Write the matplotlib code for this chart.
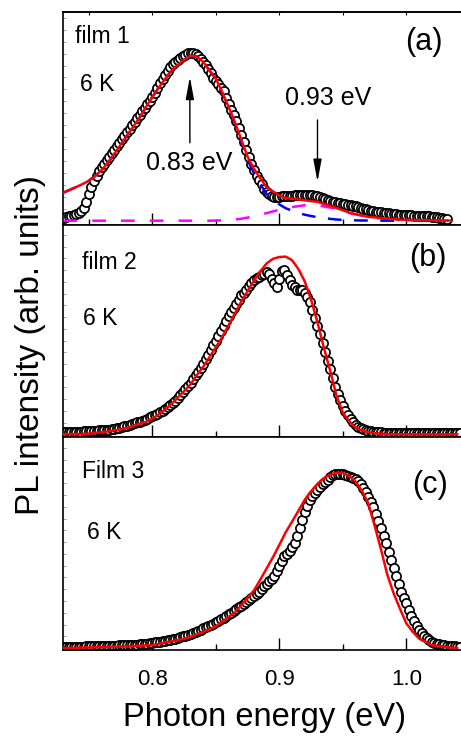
import numpy as np

import matplotlib
matplotlib.use('Agg')
import matplotlib.pyplot as plt
from matplotlib.ticker import MultipleLocator

plt.rcParams['font.family'] = ['Liberation Sans', 'DejaVu Sans']

# energy grids (eV): measured points every 2 meV, fit curves every 5 meV
e_start = 0.730
pts_step = 0.002
fit_step = 0.005

# film 1 (normalised PL)
pl_a = [0.019, 0.023, 0.027, 0.030, 0.034, 0.039, 0.045, 0.058, 0.076, 0.115,
        0.162, 0.204, 0.242, 0.272, 0.299, 0.321, 0.342, 0.365, 0.385, 0.407,
        0.428, 0.449, 0.470, 0.491, 0.512, 0.533, 0.555, 0.577, 0.598, 0.619,
        0.640, 0.660, 0.681, 0.702, 0.722, 0.745, 0.772, 0.800, 0.828, 0.855,
        0.878, 0.901, 0.925, 0.944, 0.956, 0.968, 0.980, 0.992, 1.002, 1.012,
        1.012, 1.012, 1.008, 0.993, 0.976, 0.957, 0.937, 0.914, 0.889, 0.862,
        0.842, 0.823, 0.803, 0.780, 0.743, 0.706, 0.670, 0.635, 0.600, 0.558,
        0.515, 0.472, 0.428, 0.384, 0.344, 0.307, 0.269, 0.243, 0.219, 0.194,
        0.176, 0.160, 0.146, 0.145, 0.145, 0.145, 0.146, 0.147, 0.148, 0.149,
        0.150, 0.152, 0.153, 0.154, 0.155, 0.156, 0.157, 0.155, 0.152, 0.150,
        0.148, 0.145, 0.139, 0.133, 0.127, 0.120, 0.115, 0.111, 0.108, 0.105,
        0.102, 0.099, 0.097, 0.095, 0.090, 0.086, 0.081, 0.077, 0.072, 0.068,
        0.064, 0.061, 0.058, 0.055, 0.053, 0.050, 0.048, 0.045, 0.044, 0.042,
        0.040, 0.039, 0.037, 0.036, 0.035, 0.034, 0.033, 0.032, 0.031, 0.030,
        0.029, 0.029, 0.028, 0.027, 0.026, 0.025, 0.023, 0.020, 0.017, 0.014,
        0.011, 0.008]
fit_a = [0.170, 0.186, 0.203, 0.221, 0.241, 0.270, 0.305, 0.350, 0.402, 0.458,
         0.513, 0.568, 0.623, 0.686, 0.747, 0.803, 0.855, 0.905, 0.940, 0.970,
         0.995, 0.990, 0.958, 0.906, 0.857, 0.774, 0.687, 0.593, 0.490, 0.385,
         0.313, 0.256, 0.201, 0.176, 0.152, 0.137, 0.133, 0.128, 0.123, 0.118,
         0.114, 0.101, 0.089, 0.076, 0.063, 0.049, 0.040, 0.031, 0.023, 0.020,
         0.016, 0.012, 0.009, 0.006, 0.005, 0.004, 0.003, 0.003, 0.002, 0.002,
         0.001, 0.001]
peak1_a = [0.170, 0.186, 0.203, 0.221, 0.241, 0.270, 0.305, 0.350, 0.402, 0.458,
           0.513, 0.568, 0.623, 0.686, 0.747, 0.803, 0.855, 0.905, 0.940, 0.970,
           0.995, 0.990, 0.958, 0.906, 0.856, 0.772, 0.683, 0.586, 0.478, 0.366,
           0.286, 0.220, 0.160, 0.125, 0.098, 0.075, 0.060, 0.047, 0.036, 0.028,
           0.021, 0.016, 0.011, 0.007, 0.005, 0.003, 0.002, 0.001, 0.001, 0.000,
           0.000, 0.000, 0.000, 0.000, 0.000]
peak2_a = [0.000, 0.000, 0.000, 0.000, 0.000, 0.000, 0.000, 0.000, 0.000, 0.000,
           0.000, 0.000, 0.000, 0.000, 0.000, 0.000, 0.000, 0.000, 0.000, 0.000,
           0.000, 0.000, 0.000, 0.000, 0.001, 0.002, 0.004, 0.007, 0.012, 0.019,
           0.027, 0.036, 0.046, 0.056, 0.066, 0.074, 0.082, 0.088, 0.093, 0.096,
           0.094, 0.086, 0.079, 0.069, 0.058, 0.046, 0.038, 0.030, 0.022, 0.018,
           0.014, 0.011, 0.008, 0.006, 0.004, 0.003, 0.002, 0.002, 0.001, 0.001,
           0.000, 0.000]

# film 2
pl_b = [0.011, 0.012, 0.012, 0.013, 0.013, 0.014, 0.015, 0.015, 0.016, 0.016,
        0.017, 0.019, 0.020, 0.021, 0.022, 0.023, 0.024, 0.026, 0.027, 0.028,
        0.031, 0.035, 0.038, 0.042, 0.046, 0.049, 0.053, 0.056, 0.062, 0.067,
        0.072, 0.077, 0.082, 0.088, 0.095, 0.103, 0.110, 0.117, 0.124, 0.132,
        0.143, 0.154, 0.165, 0.176, 0.188, 0.204, 0.221, 0.237, 0.253, 0.271,
        0.291, 0.311, 0.332, 0.352, 0.372, 0.396, 0.422, 0.448, 0.474, 0.501,
        0.528, 0.555, 0.583, 0.610, 0.638, 0.664, 0.688, 0.711, 0.735, 0.758,
        0.782, 0.798, 0.815, 0.832, 0.852, 0.866, 0.878, 0.886, 0.894, 0.903,
        0.912, 0.905, 0.875, 0.853, 0.831, 0.874, 0.919, 0.926, 0.898, 0.871,
        0.842, 0.829, 0.815, 0.815, 0.813, 0.798, 0.771, 0.742, 0.700, 0.657,
        0.610, 0.565, 0.513, 0.462, 0.413, 0.365, 0.316, 0.269, 0.229, 0.191,
        0.160, 0.130, 0.107, 0.086, 0.069, 0.053, 0.043, 0.033, 0.028, 0.023,
        0.019, 0.016, 0.015, 0.013, 0.012, 0.011, 0.010, 0.009, 0.007, 0.006,
        0.006, 0.006, 0.005, 0.006, 0.006, 0.005, 0.006, 0.006, 0.006, 0.005,
        0.006, 0.006, 0.005, 0.006, 0.006, 0.006, 0.005, 0.006, 0.006, 0.006,
        0.006, 0.005, 0.006, 0.006, 0.006, 0.005, 0.006]
fit_b = [0.000, 0.001, 0.001, 0.002, 0.004, 0.008, 0.012, 0.017, 0.022, 0.027,
         0.036, 0.047, 0.059, 0.070, 0.088, 0.112, 0.140, 0.171, 0.207, 0.243,
         0.281, 0.333, 0.380, 0.435, 0.491, 0.548, 0.614, 0.681, 0.747, 0.806,
         0.865, 0.918, 0.962, 0.988, 0.998, 1.000, 0.980, 0.930, 0.860, 0.757,
         0.630, 0.488, 0.358, 0.216, 0.121, 0.073, 0.037, 0.022, 0.011, 0.007,
         0.004, 0.001, 0.000, 0.000, 0.000, 0.000, 0.000, 0.000, 0.000, 0.000,
         0.000, 0.000, 0.000]

# film 3
pl_c = [0.006, 0.006, 0.006, 0.007, 0.007, 0.007, 0.008, 0.008, 0.008, 0.009,
        0.009, 0.009, 0.010, 0.010, 0.011, 0.011, 0.012, 0.012, 0.013, 0.013,
        0.014, 0.014, 0.015, 0.015, 0.016, 0.016, 0.017, 0.018, 0.019, 0.020,
        0.022, 0.023, 0.025, 0.026, 0.028, 0.029, 0.032, 0.034, 0.036, 0.039,
        0.041, 0.044, 0.046, 0.050, 0.054, 0.058, 0.062, 0.066, 0.070, 0.074,
        0.081, 0.087, 0.093, 0.099, 0.105, 0.112, 0.118, 0.125, 0.132, 0.139,
        0.146, 0.155, 0.164, 0.172, 0.181, 0.192, 0.202, 0.212, 0.222, 0.232,
        0.242, 0.252, 0.262, 0.273, 0.284, 0.296, 0.309, 0.322, 0.336, 0.352,
        0.366, 0.382, 0.396, 0.412, 0.440, 0.470, 0.497, 0.522, 0.536, 0.550,
        0.573, 0.600, 0.640, 0.683, 0.729, 0.775, 0.811, 0.846, 0.864, 0.882,
        0.900, 0.916, 0.935, 0.947, 0.959, 0.974, 0.988, 0.991, 0.993, 0.991,
        0.989, 0.985, 0.981, 0.976, 0.970, 0.962, 0.950, 0.934, 0.913, 0.889,
        0.862, 0.833, 0.802, 0.766, 0.726, 0.685, 0.641, 0.597, 0.549, 0.503,
        0.456, 0.410, 0.363, 0.318, 0.287, 0.254, 0.218, 0.184, 0.152, 0.124,
        0.103, 0.086, 0.069, 0.055, 0.045, 0.037, 0.031, 0.026, 0.023, 0.019,
        0.016, 0.014, 0.013, 0.011, 0.009, 0.008, 0.006]
fit_c = [0.000, 0.001, 0.002, 0.003, 0.004, 0.005, 0.006, 0.007, 0.008, 0.009,
         0.011, 0.012, 0.014, 0.015, 0.017, 0.024, 0.032, 0.039, 0.046, 0.053,
         0.063, 0.078, 0.092, 0.107, 0.124, 0.150, 0.177, 0.204, 0.244, 0.286,
         0.328, 0.390, 0.454, 0.518, 0.588, 0.660, 0.720, 0.782, 0.845, 0.893,
         0.935, 0.968, 0.988, 0.998, 0.997, 0.980, 0.947, 0.895, 0.824, 0.697,
         0.562, 0.417, 0.311, 0.223, 0.140, 0.093, 0.054, 0.036, 0.017, 0.012,
         0.008, 0.003, 0.000]

film_labels = ['film 1', 'film 2', 'Film 3']
panel_tags = ['(a)', '(b)', '(c)']
temp_label = '6 K'
peak_labels = ['0.83 eV', '0.93 eV']
peak_pos = [0.8295, 0.930]


def grid(vals, step):
    return e_start + step * np.arange(len(vals))


fig, axes = plt.subplots(3, 1, sharex=True, figsize=(4.61, 7.40), dpi=100)
fig.subplots_adjust(left=63/461, right=1.0, top=1-12/740, bottom=1-650/740, hspace=0)

pts = [pl_a, pl_b, pl_c]
fits = [fit_a, fit_b, fit_c]
ylims = [(-0.024, 1.259), (-0.017, 1.180), (-0.011, 1.200)]
ystep = [0.072, 0.066, 0.067]

for i, ax in enumerate(axes):
    ax.plot(grid(pts[i], pts_step), pts[i], 'o', ms=6.6, mfc='white', mec='black',
            mew=1.25, zorder=2)
    if i == 0:
        ax.plot(grid(peak2_a, fit_step), peak2_a, color='#ff00ff', lw=1.8,
                dashes=(5.5, 6), zorder=3)
        ax.plot(grid(peak1_a, fit_step), peak1_a, color='#0000ff', lw=1.8,
                dashes=(5.5, 5), zorder=3)
    ax.plot(grid(fits[i], fit_step), fits[i], color='#ff0000', lw=1.8, zorder=4)

    ax.set_xlim(0.7296, 1.0430)
    ax.set_ylim(*ylims[i])
    ax.xaxis.set_major_locator(MultipleLocator(0.1))
    ax.xaxis.set_minor_locator(MultipleLocator(0.05))
    ax.yaxis.set_major_locator(MultipleLocator(ystep[i]))
    ax.tick_params(axis='x', which='major', direction='in', length=8.5, width=1.0,
                   top=False, labelsize=16, pad=14)
    ax.tick_params(axis='x', which='minor', direction='in', length=4.5, width=1.0,
                   top=False)
    ax.tick_params(axis='y', which='both', direction='in', length=2.5, width=0.6,
                   color='0.6', labelleft=False, right=False)
    for s in ['left', 'top', 'bottom']:
        ax.spines[s].set_linewidth(1.2)
    ax.spines['right'].set_visible(False)

    ax.text(0.03 if i == 0 else 0.048, [0.887, 0.822, 0.840][i], film_labels[i],
            transform=ax.transAxes, ha='left', va='center', fontsize=16.5)
    ax.text([0.043, 0.050, 0.060][i], [0.657, 0.559, 0.552][i], temp_label,
            transform=ax.transAxes, ha='left', va='center', fontsize=16.5)
    ax.text([0.907, 0.917, 0.922][i], [0.859, 0.845, 0.778][i], panel_tags[i],
            transform=ax.transAxes, ha='center', va='center', fontsize=22)

# short ticks along the top of the first panel
top = axes[0].secondary_xaxis('top')
top.xaxis.set_major_locator(MultipleLocator(0.05))
top.tick_params(direction='in', length=2.5, width=0.8, labeltop=False)
top.spines['top'].set_linewidth(1.2)

ax = axes[0]
head = '-|>,head_length=1.35,head_width=0.25'
ax.annotate('', xy=(peak_pos[0], 0.867), xytext=(peak_pos[0], 0.47),
            arrowprops=dict(arrowstyle=head, color='black', lw=1.0,
                            mutation_scale=10, shrinkA=0, shrinkB=0))
ax.annotate('', xy=(peak_pos[1], 0.235), xytext=(peak_pos[1], 0.608),
            arrowprops=dict(arrowstyle=head, color='black', lw=1.0,
                            mutation_scale=10, shrinkA=0, shrinkB=0))
ax.text(0.829, 0.349, peak_labels[0], ha='center', va='center', fontsize=18)
ax.text(0.938, 0.741, peak_labels[1], ha='center', va='center', fontsize=18)

axes[2].set_xlabel('Photon energy (eV)', fontsize=23.5, va='center')
axes[2].xaxis.set_label_coords(0.5075, -0.318)
fig.text(31/461, 1-345/740, 'PL intensity (arb. units)', rotation=90,
         ha='center', va='center', fontsize=24)

fig.savefig('out.png', dpi=100)
